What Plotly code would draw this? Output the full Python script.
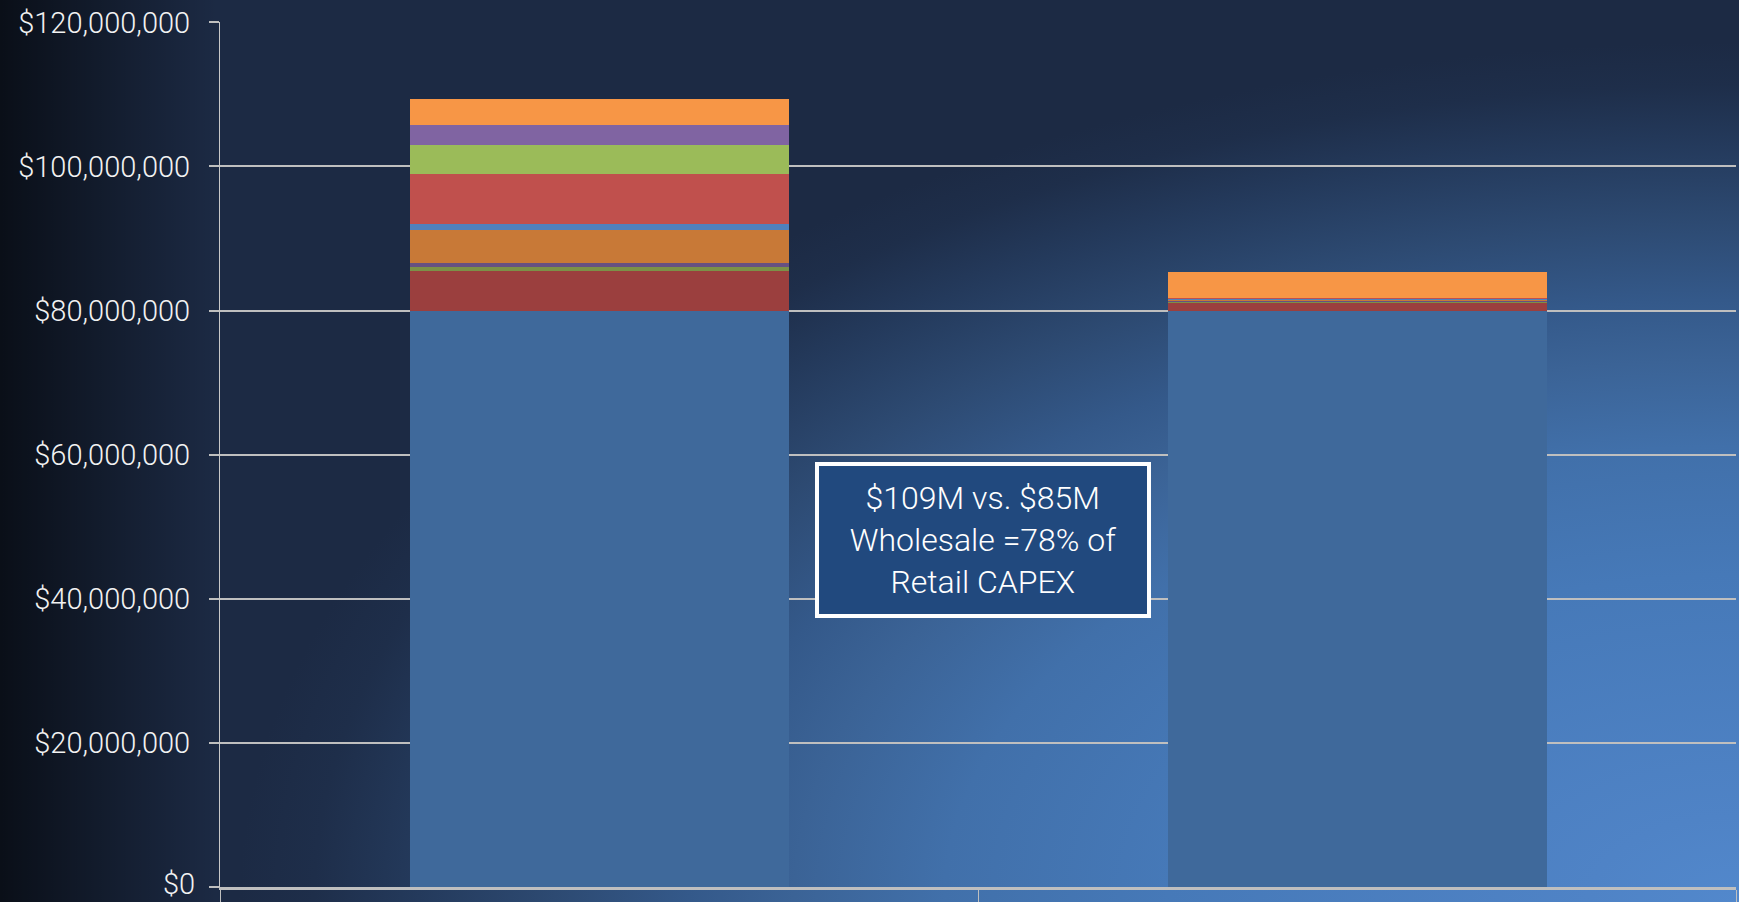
import base64
import plotly.graph_objects as go

# CAPEX build-up, in millions of dollars, stacked bottom to top
categories = ["Retail", "Wholesale"]
series_names = [f"Series {i}" for i in range(1, 11)]
series_values = [
    [80.0, 80.0],   # Series 1
    [5.5, 1.0],     # Series 2
    [0.55, 0.28],   # Series 3
    [0.6, 0.12],    # Series 4
    [4.6, 0.2],     # Series 5
    [0.8, 0.05],    # Series 6
    [6.95, 0.05],   # Series 7
    [4.0, 0.0],     # Series 8
    [2.75, 0.0],    # Series 9
    [3.65, 3.7],    # Series 10
]
series_colors = [
    "#3f699b", "#9b3f3e", "#7b9148", "#665082", "#c87937",
    "#4f81bd", "#c0504d", "#9bbb59", "#8064a2", "#f79646",
]
y_tick_values = [0, 20_000_000, 40_000_000, 60_000_000, 80_000_000, 100_000_000, 120_000_000]
y_tick_labels = [f"${v:,}" for v in y_tick_values]
note_text = "$109M vs. $85M<br>Wholesale =78% of<br>Retail CAPEX"

W, H = 1739, 902
ML, MR, MT, MB = 220, 3, 22, 15
PW, PH = W - ML - MR, H - MT - MB
LABEL_GAP = 13
tick_font = dict(family="Roboto", size=29, color="#f2f2f2", weight=300)

# Full-page backdrop: elliptical glow from the bottom-right corner, darker towards the left edge
svg = f"""<svg xmlns="http://www.w3.org/2000/svg" width="{W}" height="{H}" viewBox="0 0 {W} {H}" preserveAspectRatio="none">
<defs>
<radialGradient id="g" gradientUnits="userSpaceOnUse" cx="0" cy="0" r="1"
 gradientTransform="translate({W} {H}) scale(1500 860)">
<stop offset="0" stop-color="#5288cc"/>
<stop offset="0.10" stop-color="#4f83c6"/>
<stop offset="0.38" stop-color="#4679b8"/>
<stop offset="0.53" stop-color="#4170aa"/>
<stop offset="0.63" stop-color="#3b6396"/>
<stop offset="0.70" stop-color="#34598a"/>
<stop offset="0.79" stop-color="#2d4a72"/>
<stop offset="0.88" stop-color="#243a5c"/>
<stop offset="0.95" stop-color="#1e2e4a"/>
<stop offset="1" stop-color="#1c2a44"/>
</radialGradient>
<linearGradient id="v" x1="0" y1="0" x2="1" y2="0">
<stop offset="0" stop-color="#000" stop-opacity="0.65"/>
<stop offset="0.125" stop-color="#000" stop-opacity="0"/>
</linearGradient>
</defs>
<rect x="0" y="0" width="{W}" height="{H}" fill="url(#g)"/>
<rect x="0" y="0" width="{W}" height="{H}" fill="url(#v)"/>
</svg>"""
bg_src = "data:image/svg+xml;base64," + base64.b64encode(svg.encode()).decode()

fig = go.Figure()
for name, vals, color in zip(series_names, series_values, series_colors):
    fig.add_trace(go.Bar(
        x=categories,
        y=[v * 1_000_000 for v in vals],
        name=name,
        marker=dict(color=color, line=dict(width=0)),
    ))

fig.add_layout_image(
    source=bg_src, xref="paper", yref="paper",
    x=-ML / PW, y=1 + MT / PH, sizex=W / PW, sizey=H / PH,
    xanchor="left", yanchor="top", sizing="stretch", layer="below",
)

fig.add_annotation(
    text=note_text, xref="paper", yref="y",
    x=(983 - ML) / PW, y=48_200_000,
    showarrow=False, align="center",
    font=dict(family="Roboto", size=32, color="#ffffff", weight=300),
    bgcolor="#21497e", bordercolor="#ffffff", borderwidth=4,
    width=326, height=146,
)

# The bottom tick label sits on the page edge, so it is placed as a note lifted slightly
fig.add_annotation(
    text=y_tick_labels[0], xref="paper", yref="y",
    x=-(10 + LABEL_GAP) / PW, y=y_tick_values[0],
    xanchor="right", yanchor="middle", yshift=3,
    showarrow=False, font=tick_font,
)

fig.update_layout(
    width=W, height=H,
    margin=dict(l=ML, r=MR, t=MT, b=MB, pad=0),
    barmode="stack", bargap=0.5,
    showlegend=False,
    paper_bgcolor="#1c2a44",
    plot_bgcolor="rgba(0,0,0,0)",
    font=dict(family="Roboto", color="#f2f2f2"),
)
fig.update_xaxes(
    automargin=False,
    showticklabels=False, showgrid=False, zeroline=False,
    showline=True, linecolor="#bfbfbf", linewidth=3,
    ticks="outside", tickson="boundaries", ticklen=15, tickwidth=1, tickcolor="#bfbfbf",
)
fig.update_yaxes(
    automargin=False,
    range=[0, 120_050_000], tickvals=y_tick_values,
    ticktext=[""] + y_tick_labels[1:],
    tickfont=tick_font,
    showgrid=True, gridcolor="#bfbfbf", gridwidth=2, zeroline=False,
    showline=True, linecolor="#c8c8c8", linewidth=1,
    ticks="outside", ticklen=10, tickwidth=2, tickcolor="#bfbfbf",
    ticklabelstandoff=LABEL_GAP,
)

fig.write_html("out.html")
